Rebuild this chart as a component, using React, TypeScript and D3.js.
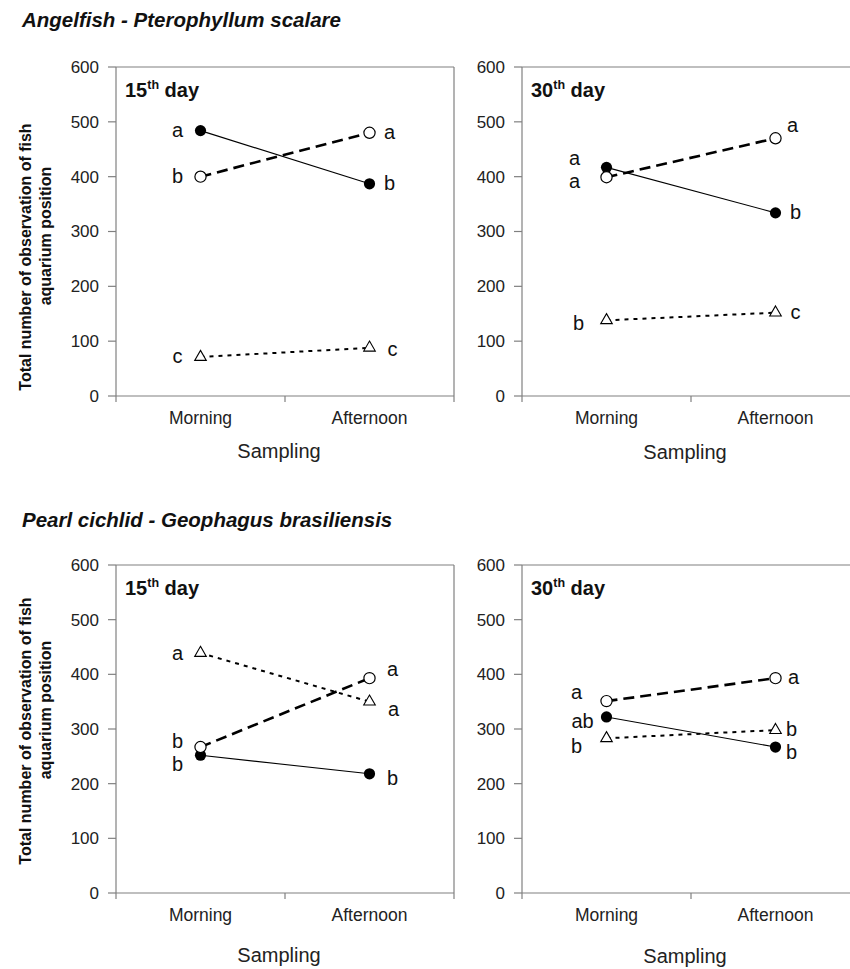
import React from 'react';
import * as d3 from 'd3';

// categories and ticks
const sessions = ['Morning', 'Afternoon'];
const yTicks = [0, 100, 200, 300, 400, 500, 600];
const speciesTitles = ['Angelfish - Pterophyllum scalare', 'Pearl cichlid - Geophagus brasiliensis'];
const dayLabels = ['15', '30'];

// series order: filled circle (solid), open circle (dashed), triangle (dotted)
const angel15Values = [[484, 387], [400, 480], [71, 88]];
const angel15Letters = [['a', 'b'], ['b', 'a'], ['c', 'c']];
const angel30Values = [[417, 334], [399, 470], [138, 152]];
const angel30Letters = [['a', 'b'], ['a', 'a'], ['b', 'c']];
const pearl15Values = [[252, 218], [267, 393], [439, 350]];
const pearl15Letters = [['b', 'b'], ['b', 'a'], ['a', 'a']];
const pearl30Values = [[322, 267], [351, 393], [283, 298]];
const pearl30Letters = [['ab', 'b'], ['a', 'a'], ['b', 'b']];

// hand placement of the significance letters (dx, dy) so they don't collide
const L = -23, R = 20;
const angel15Nudge = [[[L, 0], [R, 0]], [[L, 0], [R, 0]], [[L, 0], [R + 3, 2]]];
const angel30Nudge = [[[-32, -8], [R, 0]], [[-32, 5], [17, -12]], [[-28, 4], [R, 0]]];
const pearl15Nudge = [[[L, 10], [23, 5]], [[L, -5], [23, -8]], [[L, 1], [24, 8]]];
const pearl30Nudge = [[[-24, 5], [16, 6]], [[-30, -8], [18, 0]], [[-30, 9], [16, 0]]];

const FONT = '"Liberation Sans", Arial, Helvetica, sans-serif';
const AXIS = '#808080';

const panels = [
  { left: 116, top: 67, bottom: 396, values: angel15Values, letters: angel15Letters, nudge: angel15Nudge, day: 0, samplingGap: 62 },
  { left: 522, top: 67, bottom: 396, values: angel30Values, letters: angel30Letters, nudge: angel30Nudge, day: 1, samplingGap: 63 },
  { left: 116, top: 565, bottom: 893, values: pearl15Values, letters: pearl15Letters, nudge: pearl15Nudge, day: 0, samplingGap: 69 },
  { left: 522, top: 565, bottom: 893, values: pearl30Values, letters: pearl30Letters, nudge: pearl30Nudge, day: 1, samplingGap: 70 },
];

const lineStyles = [
  { width: 1.1, dash: null },
  { width: 2.6, dash: '11,6' },
  { width: 2, dash: '4,5' },
];

const triangle = d3.symbol().type(d3.symbolTriangle).size(58)();

function Panel({ p }: { p: any }) {
  const width = 338;
  const x = d3.scaleBand().domain(sessions).range([p.left, p.left + width]);
  const y = d3.scaleLinear().domain([0, 600]).range([p.bottom, p.top]);
  const cx = (s: string) => (x(s) as number) + x.bandwidth() / 2;
  const line = d3.line<number>().x((_, i) => cx(sessions[i])).y(d => y(d));

  return (
    <g>
      {/* frame */}
      <line x1={p.left} x2={p.left + width} y1={p.top} y2={p.top} stroke={AXIS} strokeWidth={1.2} />
      <line x1={p.left + width} x2={p.left + width} y1={p.top} y2={p.bottom + 6} stroke={AXIS} strokeWidth={1.2} />
      <line x1={p.left} x2={p.left} y1={p.top} y2={p.bottom + 6} stroke={AXIS} strokeWidth={1.2} />
      <line x1={p.left} x2={p.left + width} y1={p.bottom} y2={p.bottom} stroke={AXIS} strokeWidth={1.2} />
      {sessions.slice(1).map(s => (
        <line key={s} x1={x(s)} x2={x(s)} y1={p.bottom} y2={p.bottom + 6} stroke={AXIS} strokeWidth={1.2} />
      ))}
      {yTicks.map(t => (
        <g key={t}>
          <line x1={p.left - 8} x2={p.left} y1={y(t)} y2={y(t)} stroke={AXIS} strokeWidth={1.2} />
          <text x={p.left - 17} y={y(t)} dy="0.35em" textAnchor="end" fontSize={17} fill="#222">{t}</text>
        </g>
      ))}
      {sessions.map(s => (
        <text key={s} x={cx(s)} y={p.bottom + 28} textAnchor="middle" fontSize={17.5} fill="#222">{s}</text>
      ))}
      <text x={p.left + width / 2 - 6} y={p.bottom + p.samplingGap} textAnchor="middle" fontSize={20} fill="#222">Sampling</text>

      <text x={p.left + 9} y={p.top + 30} fontSize={20} fontWeight="bold" fill="#111">
        {dayLabels[p.day]}
        <tspan fontSize={12.5} dy={-8}>th</tspan>
        <tspan dy={8}> day</tspan>
      </text>

      {p.values.map((vals: number[], si: number) => (
        <path key={'l' + si} d={line(vals) as string} fill="none" stroke="#000"
          strokeWidth={lineStyles[si].width} strokeDasharray={lineStyles[si].dash ?? undefined} />
      ))}
      {p.values.map((vals: number[], si: number) =>
        vals.map((v, i) => {
          const px = cx(sessions[i]);
          const py = y(v);
          if (si === 0) return <circle key={'m' + si + i} cx={px} cy={py} r={5.6} fill="#000" />;
          if (si === 1) return <circle key={'m' + si + i} cx={px} cy={py} r={5.6} fill="#fff" stroke="#000" strokeWidth={1.2} />;
          return <path key={'m' + si + i} d={triangle as string} transform={`translate(${px},${py})`} fill="#fff" stroke="#000" strokeWidth={1.1} />;
        })
      )}
      {p.letters.map((ls: string[], si: number) =>
        ls.map((l, i) => (
          <text key={'t' + si + i} x={cx(sessions[i]) + p.nudge[si][i][0]} y={y(p.values[si][i]) + p.nudge[si][i][1]}
            dy="0.3em" textAnchor="middle" fontSize={20} fill="#111">{l}</text>
        ))
      )}
    </g>
  );
}

export default function App() {
  const W = 850, H = 969;
  return (
    <svg width={W} height={H} style={{ position: 'absolute', left: 0, top: 0, background: '#fff' }} fontFamily={FONT}>
      <rect width={W} height={H} fill="#fff" />
      <text x={22} y={27} fontSize={20.5} fontWeight="bold" fontStyle="italic" fill="#111">{speciesTitles[0]}</text>
      <text x={22} y={527} fontSize={20.5} fontWeight="bold" fontStyle="italic" fill="#111">{speciesTitles[1]}</text>
      {[[257, 236], [731, 710]].map(([c1, c2], k) => (
        <g key={k} fontSize={16} fontWeight="bold" fill="#111" textAnchor="middle">
          <text transform={`translate(31,${c1}) rotate(-90)`}>Total number of observation of fish</text>
          <text transform={`translate(51,${c2}) rotate(-90)`}>aquarium position</text>
        </g>
      ))}
      {panels.map((p, i) => <Panel key={i} p={p} />)}
    </svg>
  );
}
